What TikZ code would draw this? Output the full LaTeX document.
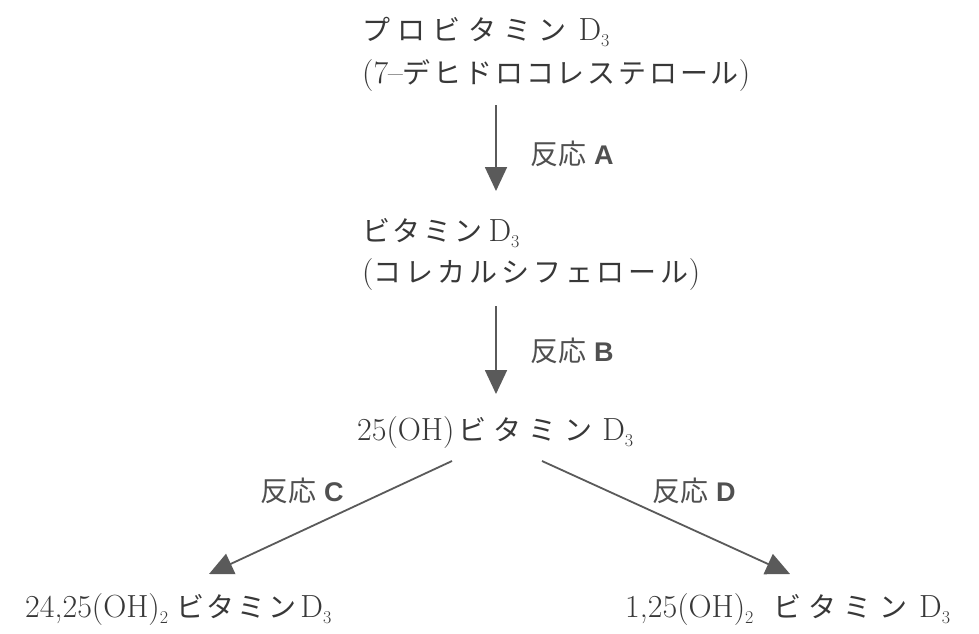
\documentclass[tikz,border=0pt]{standalone}
\usepackage{fontspec}
\newfontfamily\jp{Noto Sans CJK JP}[LetterSpace=10]
\newfontfamily\jpm{Noto Sans CJK JP}[LetterSpace=14]
\newfontfamily\jpw{Noto Sans CJK JP}[LetterSpace=26]
\newfontfamily\jpl{Noto Sans CJK JP}
\newfontfamily\labsans{Liberation Sans}
\usetikzlibrary{arrows.meta}
\definecolor{ink}{HTML}{383838}
\definecolor{labc}{HTML}{505050}
\definecolor{arr}{HTML}{5A5A5A}
\newcommand\jk[1]{{\jp\fontsize{28}{30}\selectfont #1}}
\newcommand\jkm[1]{{\jpm\fontsize{28}{30}\selectfont #1}}
\newcommand\jkw[1]{{\jpw\fontsize{28}{30}\selectfont #1}}
\newcommand\sbs[1]{\raisebox{-6pt}{\fontsize{18}{18}\selectfont #1}}
\newcommand\rlab[1]{{\jpl\fontsize{28}{30}\selectfont 反応}\hspace{8pt}{\labsans\bfseries\fontsize{27}{27}\selectfont #1}}
\tikzset{
  txt/.style={inner sep=0pt, anchor=base west, text=ink, font=\fontsize{32}{36}\selectfont},
  lbl/.style={inner sep=0pt, anchor=base west, text=labc},
  rarrow/.style={draw=arr, line width=1.8pt, -{Triangle[length=24pt,width=22pt]}}
}
\begin{document}
\begin{tikzpicture}[x=1pt,y=-1pt]
\useasboundingbox[fill=white] (0,0) rectangle (979,633);
% texts
\node[txt] (pro) at (362,40) {\jkw{プロビタミン}\hspace{12pt}D\sbs{3}};
\node[txt] (proN) at (362,83) {(7--\jk{デヒドロコレステロール})};
\node[txt] (vit) at (362,241) {\jk{ビタミン}\hspace{6pt}D\sbs{3}};
\node[txt] (vitN) at (362,282) {(\jkm{コレカルシフェロール})};
\node[txt] (oh) at (357,440) {25(OH)\hspace{4pt}\jkw{ビタミン}\hspace{10pt}D\sbs{3}};
\node[txt] (left) at (25,617) {24,25(OH)\sbs{2}\hspace{8pt}\jk{ビタミン}\hspace{4pt}D\sbs{3}};
\node[txt] (right) at (625,617) {1,25(OH)\sbs{2}\hspace{20pt}\jkw{ビタミン}\hspace{12pt}D\sbs{3}};
% labels
\node[lbl] (la) at (530,164) {\rlab{A}};
\node[lbl] (lb) at (530,361) {\rlab{B}};
\node[lbl] (lc) at (260,501) {\rlab{C}};
\node[lbl] (ld) at (652,501) {\rlab{D}};
% arrow end points
\coordinate (a1) at (496,105);
\coordinate (a2) at (496,191);
\coordinate (b1) at (496,306);
\coordinate (b2) at (496,394);
\coordinate (c1) at (452,461);
\coordinate (c2) at (209,574);
\coordinate (d1) at (542,461);
\coordinate (d2) at (790,574);
\draw[rarrow] (a1) -- (a2);
\draw[rarrow] (b1) -- (b2);
\draw[rarrow] (c1) -- (c2);
\draw[rarrow] (d1) -- (d2);
\end{tikzpicture}
\end{document}
